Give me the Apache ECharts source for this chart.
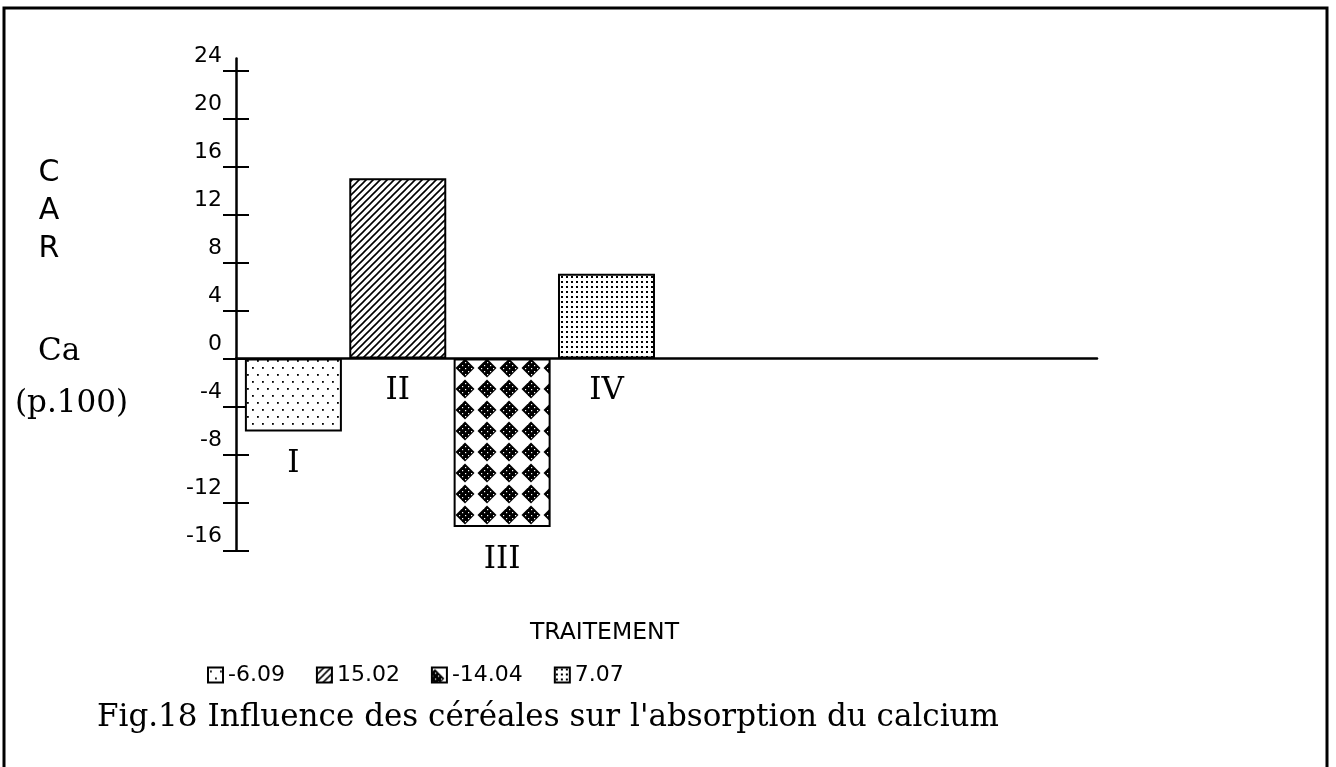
<!DOCTYPE html>
<html><head><meta charset="utf-8">
<script src="https://cdn.jsdelivr.net/npm/echarts@6/dist/echarts.min.js"></script>
<style>html,body{margin:0;padding:0;background:#fff}#c{width:1336px;height:767px}</style>
</head><body><div id="c"></div>
<script>
// ---- data ----
const treatments = ['I', 'II', 'III', 'IV'];
const seriesNames = ['-6.09', '15.02', '-14.04', '7.07'];
const values = [-6.09, 15.02, -14.04, 7.07];
const positions = [1, 2, 3, 4];
const yTicks = [-16, -12, -8, -4, 0, 4, 8, 12, 16, 20, 24];

// ---- fill patterns ----
function tile(w, h, draw) {
  const c = document.createElement('canvas');
  c.width = w; c.height = h;
  const g = c.getContext('2d');
  g.fillStyle = '#fff'; g.fillRect(0, 0, w, h);
  draw(g, w, h);
  return { image: c, repeat: 'repeat' };
}
function diamondTile(g, w, h) {
  const cx0 = 3, cy0 = 11, r = 9.5;
  for (const dx of [-w, 0, w]) for (const dy of [-h, 0, h]) {
    const cx = cx0 + dx, cy = cy0 + dy;
    g.fillStyle = '#000';
    g.beginPath(); g.moveTo(cx, cy - r); g.lineTo(cx + r, cy); g.lineTo(cx, cy + r); g.lineTo(cx - r, cy); g.closePath(); g.fill();
    g.fillStyle = '#fff';
    for (let ox = -6; ox <= 6; ox += 3) for (let oy = -6; oy <= 6; oy += 3) {
      if (Math.abs(ox) + Math.abs(oy) <= 6 && ((ox + oy) / 3) % 2 === 0) g.fillRect(cx + ox, cy + oy, 1.2, 1.2);
    }
  }
}
const patterns = [
  tile(10, 14, g => { g.fillStyle = '#000'; g.fillRect(2, 3, 1.8, 1.8); g.fillRect(7, 10, 1.8, 1.8); }),
  tile(7, 7, g => {
    g.strokeStyle = '#000'; g.lineWidth = 1.6; g.beginPath();
    g.moveTo(-1, 8); g.lineTo(8, -1);
    g.moveTo(-2, 2); g.lineTo(2, -2);
    g.moveTo(5, 9); g.lineTo(9, 5);
    g.stroke();
  }),
  tile(22, 21, diamondTile),
  tile(5, 5, g => { g.fillStyle = '#000'; g.fillRect(1, 1, 2, 2); })
];

const chart = echarts.init(document.getElementById('c'), null, { renderer: 'canvas' });
const gridBox = { left: 236, right: 239, top: 58.5, height: 492 };
const serif = 'DejaVu Serif';
chart.setOption({
  animation: false,
  backgroundColor: '#fff',
  title: [
    { text: "Fig.18 Influence des céréales sur l'absorption du calcium", left: 97, top: 702, padding: 0,
      textStyle: { fontFamily: serif, fontSize: 31, fontWeight: 'normal', color: '#000' } },
    { text: 'TRAITEMENT', left: 530, top: 621, padding: 0,
      textStyle: { fontFamily: 'DejaVu Sans', fontSize: 23.5, fontWeight: 'normal', color: '#000' } }
  ],
  legend: {
    left: 207, top: 664, padding: 0, icon: 'rect', itemWidth: 15, itemHeight: 15, itemGap: 31,
    selectedMode: false,
    data: seriesNames,
    textStyle: { fontFamily: 'DejaVu Sans', fontSize: 22, color: '#000' }
  },
  grid: [Object.assign({}, gridBox), Object.assign({}, gridBox)],
  xAxis: [
    { gridIndex: 0, type: 'value', min: 0.45, max: 8.7,
      axisLine: { show: true, onZero: true, lineStyle: { color: '#000', width: 2.5 } },
      axisTick: { show: false }, axisLabel: { show: false }, splitLine: { show: false } },
    { gridIndex: 1, type: 'value', min: 0.45, max: 8.7, show: false }
  ],
  yAxis: [
    { gridIndex: 0, type: 'value', min: -16, max: 25,
      axisLine: { show: true, onZero: false, lineStyle: { color: '#000', width: 2.5 } },
      axisTick: { show: true, customValues: yTicks, length: 13, lineStyle: { color: '#000', width: 2 } },
      axisLabel: { show: true, customValues: yTicks, margin: 14, fontFamily: 'DejaVu Sans', fontSize: 22,
        color: '#000', verticalAlign: 'bottom', padding: [0, 0, 3, 0], formatter: v => String(v) },
      splitLine: { show: false } },
    { gridIndex: 1, type: 'value', min: -16, max: 25,
      axisLine: { show: false, onZero: false },
      axisTick: { show: true, inside: true, customValues: yTicks, length: 13, lineStyle: { color: '#000', width: 2 } },
      axisLabel: { show: false }, splitLine: { show: false } }
  ],
  graphic: [
    { type: 'rect', silent: true, shape: { x: 4, y: 8, width: 1323, height: 820 },
      style: { fill: 'none', stroke: '#000', lineWidth: 3 } },
    { type: 'text', silent: true, x: 49, y: 154,
      style: { text: 'C\nA\nR', fill: '#000', font: '30px "DejaVu Sans"', lineHeight: 38, align: 'center', verticalAlign: 'top' } },
    { type: 'text', silent: true, x: 38, y: 352,
      style: { text: 'Ca', fill: '#000', font: '31px "DejaVu Serif"', align: 'left', verticalAlign: 'middle' } },
    { type: 'text', silent: true, x: 15, y: 404,
      style: { text: '(p.100)', fill: '#000', font: '31px "DejaVu Serif"', align: 'left', verticalAlign: 'middle' } }
  ],
  series: values.map((v, i) => ({
    name: seriesNames[i], type: 'bar', xAxisIndex: 0, yAxisIndex: 0,
    data: [[positions[i], v]], barWidth: 97, barGap: '-100%',
    itemStyle: { color: patterns[i], borderColor: '#000', borderWidth: 2 },
    label: { show: true, position: 'bottom', distance: 17, formatter: treatments[i],
      fontFamily: serif, fontSize: 31, color: '#000' },
    emphasis: { disabled: true }
  }))
});
</script>
</body></html>
